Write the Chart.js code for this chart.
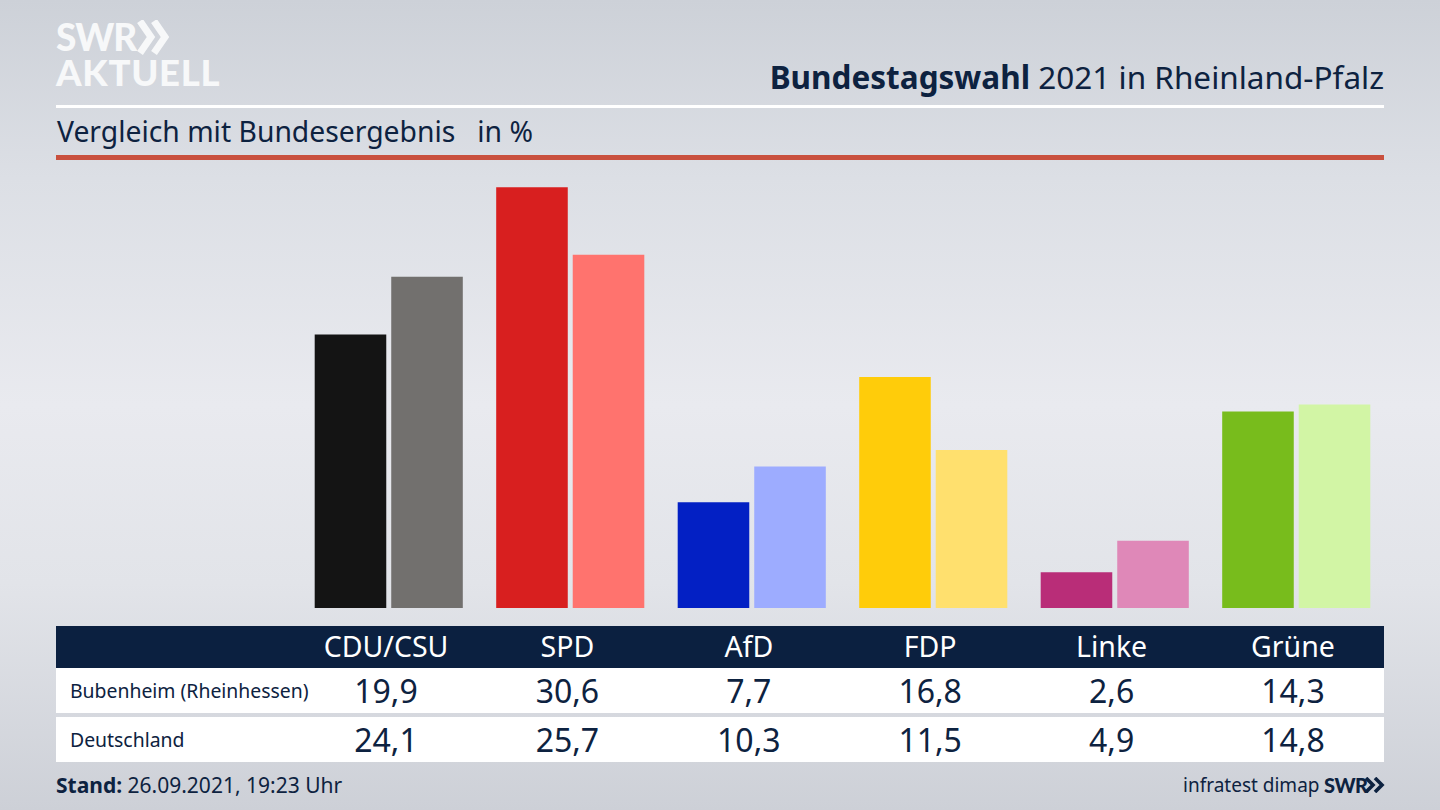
<!DOCTYPE html>
<html lang="de">
<head>
<meta charset="utf-8">
<title>Bundestagswahl 2021 in Rheinland-Pfalz</title>
<script src="https://cdn.jsdelivr.net/npm/chart.js@4"></script>
<style>
  html, body { margin: 0; padding: 0; }
  body {
    position: relative;
    width: 1440px;
    height: 810px;
    overflow: hidden;
    color: #0d2240;
    font-family: 'Noto Sans', sans-serif;
    background: linear-gradient(180deg, #cdd1d8 0%, #dcdfe5 22%, #e9eaef 50%, #e2e4e9 72%, #cdd0d7 100%);
  }
  .abs { position: absolute; white-space: nowrap; }
  #logoTop { left: 56px; top: 13px; font: 900 37px/48px Lato, sans-serif; color: #f7f8f9; letter-spacing: -1px; }
  #logoBottom { left: 56px; top: 50px; font: 900 36.5px/44px Lato, sans-serif; color: #f7f8f9; letter-spacing: 0.7px; }
  #logoArrows { left: 137px; top: 20px; }
  #title { right: 56px; top: 56px; font-size: 31.5px; line-height: 42px; }
  #title b { font-weight: 700; }
  #ruleWhite { left: 56px; top: 105px; width: 1328px; height: 3px; background: #fff; }
  #subtitle { left: 57px; top: 111px; font-size: 28.3px; line-height: 40px; }
  #ruleRed { left: 56px; top: 155px; width: 1328px; height: 5px; background: #c9503e; }
  #chartBox { left: 298px; top: 168px; width: 1089px; height: 440px; }
  #headRow { left: 56px; top: 626px; width: 1328px; height: 42px; background: #0b2040; }
  #rowOne { left: 56px; top: 668px; width: 1328px; height: 45px; background: #fff; }
  #rowTwo { left: 56px; top: 717px; width: 1328px; height: 45px; background: #fff; }
  .rowLabel { left: 70px; font-size: 19.4px; line-height: 45px; }
  .cell { width: 180px; text-align: center; }
  .head { top: 625px; font-size: 28.5px; line-height: 42px; color: #fff; }
  .num { font-size: 32px; line-height: 45px; }
  #stand { left: 56px; top: 770px; font-size: 21px; line-height: 30px; }
  #source { left: 1183px; top: 770px; font-size: 19px; line-height: 30px; }
  #swrSmall { left: 1324px; top: 770px; font: 900 20px/30px Lato, sans-serif; letter-spacing: -0.5px; }
  #smallArrows { left: 1365px; top: 777px; }
</style>
</head>
<body>
  <div class="abs" id="logoTop">SWR</div>
  <svg class="abs" id="logoArrows" width="36" height="36" viewBox="0 0 36 36">
    <path d="M3 1 L14 17 L3 33 M17 1 L28 17 L17 33" fill="none" stroke="#f7f8f9" stroke-width="7"/>
  </svg>
  <div class="abs" id="logoBottom">AKTUELL</div>
  <div class="abs" id="title"><b>Bundestagswahl</b> 2021 in Rheinland-Pfalz</div>
  <div class="abs" id="ruleWhite"></div>
  <div class="abs" id="subtitle">Vergleich mit Bundesergebnis&nbsp;&nbsp; in %</div>
  <div class="abs" id="ruleRed"></div>
  <div class="abs" id="chartBox"><canvas id="chart"></canvas></div>
  <div class="abs" id="headRow"></div>
  <div class="abs" id="rowOne"></div>
  <div class="abs" id="rowTwo"></div>
  <div id="tableText"></div>
  <div class="abs" id="stand"><b>Stand:</b> 26.09.2021, 19:23 Uhr</div>
  <div class="abs" id="source">infratest dimap</div>
  <div class="abs" id="swrSmall">SWR</div>
  <svg class="abs" id="smallArrows" width="20" height="16" viewBox="0 0 20 16">
    <path d="M1 1 L8 8 L1 15 M10 1 L17 8 L10 15" fill="none" stroke="#0d2240" stroke-width="3.6"/>
  </svg>

<script>
const parties = ['CDU/CSU', 'SPD', 'AfD', 'FDP', 'Linke', 'Grüne'];
const bubenheim = [19.9, 30.6, 7.7, 16.8, 2.6, 14.3];
const deutschland = [24.1, 25.7, 10.3, 11.5, 4.9, 14.8];
const bubenheimColors = ['#141414', '#d81f1f', '#0320c4', '#ffcc0a', '#b92d78', '#78bc1c'];
const deutschlandColors = ['#72706e', '#ff736e', '#9dacff', '#ffe06e', '#df88b8', '#d2f5a5'];
const rowNames = ['Bubenheim (Rheinhessen)', 'Deutschland'];

function formatValue(value) {
  return value.toFixed(1).replace('.', ',');
}

function buildTable() {
  const tableText = document.getElementById('tableText');
  const columnLeft = (i) => 386 + 181.4 * i - 90;
  let html = `
    <div class="abs rowLabel" style="top:668px">${rowNames[0]}</div>
    <div class="abs rowLabel" style="top:717px">${rowNames[1]}</div>
  `;
  parties.forEach((party, i) => {
    html += `
      <div class="abs cell head" style="left:${columnLeft(i)}px">${party}</div>
      <div class="abs cell num" style="left:${columnLeft(i)}px;top:668px">${formatValue(bubenheim[i])}</div>
      <div class="abs cell num" style="left:${columnLeft(i)}px;top:717px">${formatValue(deutschland[i])}</div>
    `;
  });
  tableText.innerHTML = html;
}

buildTable();

new Chart(document.getElementById('chart'), {
  type: 'bar',
  data: {
    labels: parties,
    datasets: [
      { label: rowNames[0], data: bubenheim, backgroundColor: bubenheimColors },
      { label: rowNames[1], data: deutschland, backgroundColor: deutschlandColors },
    ],
  },
  options: {
    responsive: true,
    maintainAspectRatio: false,
    animation: false,
    datasets: { bar: { categoryPercentage: 0.8434, barPercentage: 0.935 } },
    plugins: { legend: { display: false }, tooltip: { enabled: false } },
    scales: {
      x: { display: false },
      y: { display: false, min: 0, max: 32 },
    },
  },
});
</script>
</body>
</html>
